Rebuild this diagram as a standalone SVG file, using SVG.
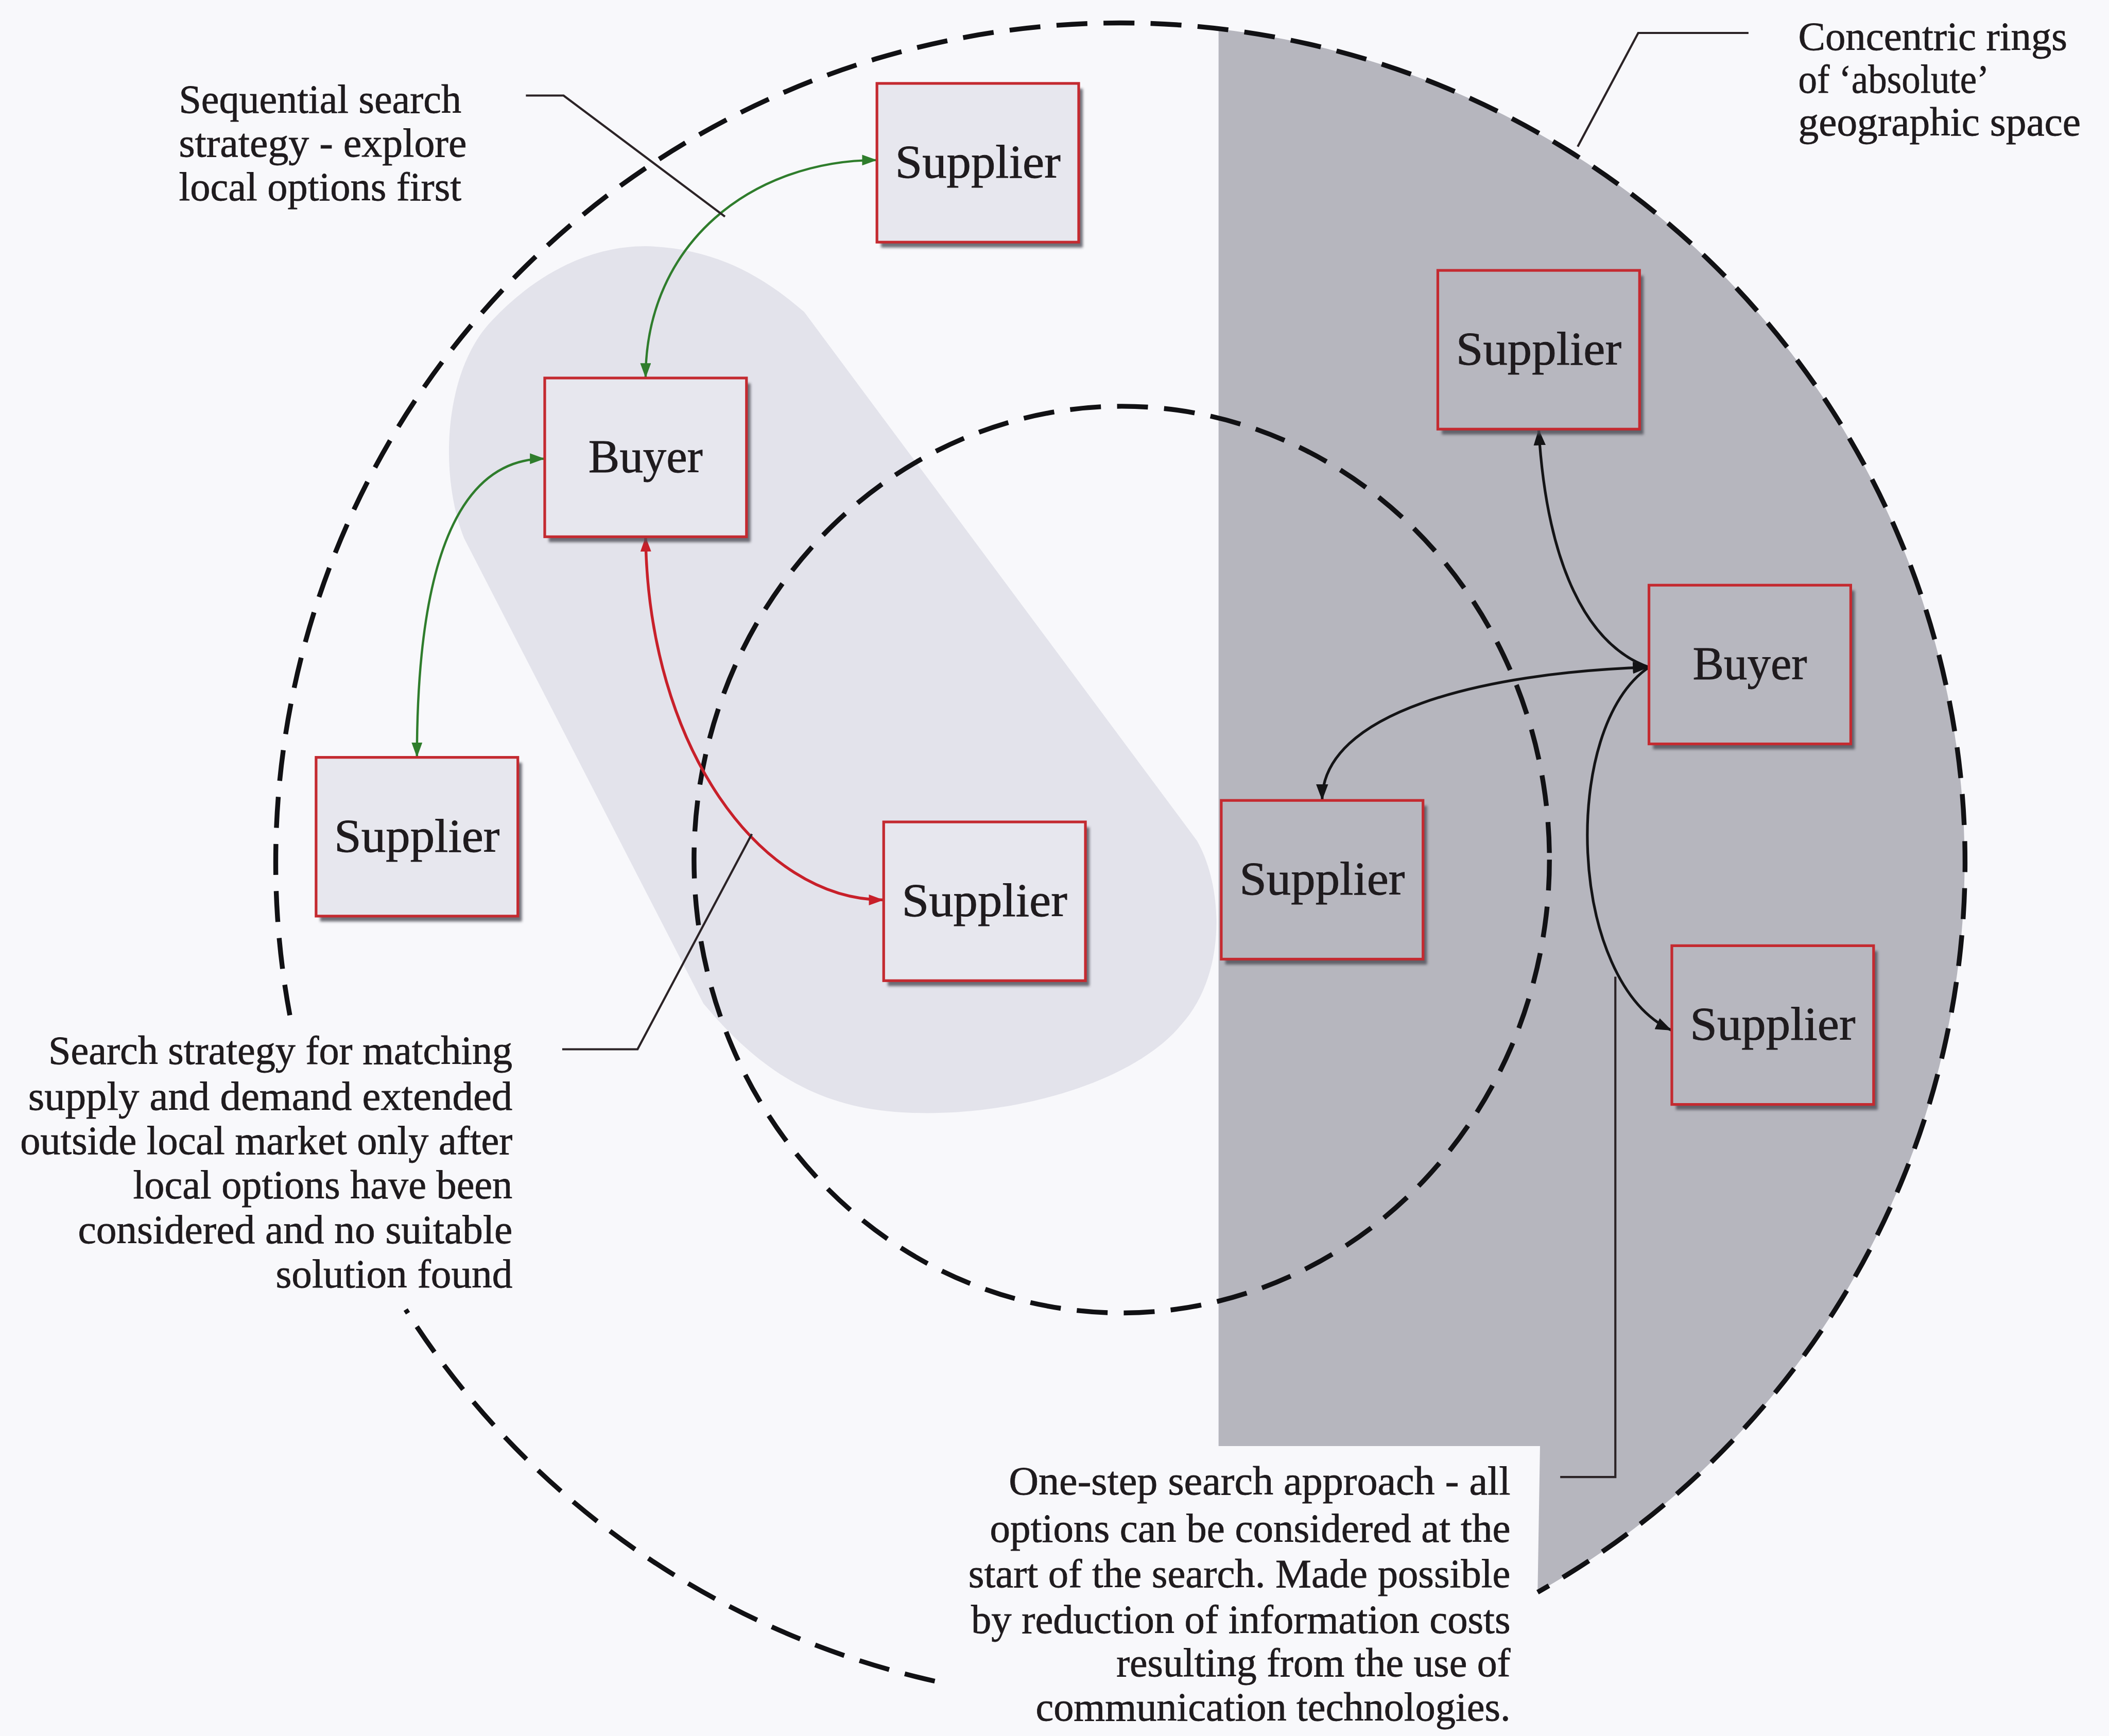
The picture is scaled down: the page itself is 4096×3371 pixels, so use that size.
<svg xmlns="http://www.w3.org/2000/svg" width="4096" height="3371" viewBox="0 0 4096 3371">
  <defs>
    <style>
      .ring { fill: none; stroke: #111114; stroke-width: 3.6; stroke-dasharray: 23 12; }
      .box-lt { fill: #e7e7ee; stroke: #c42a30; stroke-width: 2; }
      .box-dk { fill: #b7b7bf; stroke: #c42a30; stroke-width: 2; }
      .shadow { fill: #4d4d56; opacity: 0.8; filter: url(#soft); }
      .node-text { font-family: "Liberation Serif", "Times New Roman", serif; font-size: 35px; fill: #1f1b1e; stroke: #1f1b1e; stroke-width: 0.35; text-anchor: middle; }
      .label { font-family: "Liberation Serif", "Times New Roman", serif; font-size: 30px; fill: #1f1b1e; stroke: #1f1b1e; stroke-width: 0.3; }
      .leader { fill: none; stroke: #2b2326; stroke-width: 1.6; }
      .link-green { fill: none; stroke: #2f7d2c; stroke-width: 1.7; }
      .link-red { fill: none; stroke: #c8202a; stroke-width: 2.1; }
      .link-black { fill: none; stroke: #141416; stroke-width: 2; }
    </style>
    <filter id="soft" x="-10%" y="-10%" width="120%" height="120%">
      <feGaussianBlur stdDeviation="1.1"/>
    </filter>
    <marker id="arrow-green" markerUnits="userSpaceOnUse" viewBox="0 0 11 8" markerWidth="11" markerHeight="8" refX="11" refY="4" orient="auto-start-reverse">
      <path d="M0,0 L11,4 L0,8 Z" fill="#2f7d2c"/>
    </marker>
    <marker id="arrow-red" markerUnits="userSpaceOnUse" viewBox="0 0 11 8" markerWidth="11" markerHeight="8" refX="11" refY="4" orient="auto-start-reverse">
      <path d="M0,0 L11,4 L0,8 Z" fill="#c8202a"/>
    </marker>
    <marker id="arrow-black" markerUnits="userSpaceOnUse" viewBox="0 0 12 9" markerWidth="12" markerHeight="9" refX="12" refY="4.5" orient="auto-start-reverse">
      <path d="M0,0 L12,4.5 L0,9 Z" fill="#141416"/>
    </marker>
  </defs>

  <rect x="0" y="0" width="4096" height="3371" fill="#f8f8fb"/>

  <g transform="scale(2.6122)">
    <!-- background zones -->
    <g id="zones">
      <path id="local-zone" fill="#e3e3eb"
            d="M480,183 C528,184 565,203 598,232 L890,625 C910,660 912,725 878,762 C840,808 740,834 660,826 C600,820 560,790 523,746 L345,400 C326,352 330,275 366,238 C396,206 436,183 480,183 Z"/>
      <path id="remote-zone" fill="#b6b6be"
            d="M906,21.5 L906,1075 L1145,1075 L1143.2,1183.6 A628,624 0 0 0 906,21.5 Z"/>
    </g>

    <!-- concentric rings -->
    <g id="rings">
      <path class="ring" d="M215.5,754.7 A628,624 0 1 1 1143.2,1183.6"/>
      <path class="ring" d="M695,1249.7 A628,624 0 0 1 301.6,973.5"/>
      <ellipse class="ring" cx="834" cy="639" rx="318" ry="337"/>
    </g>

    <!-- connectors -->
    <g id="connectors">
      <path class="link-green" d="M480,281 C480,180 560,119 652,119" marker-start="url(#arrow-green)" marker-end="url(#arrow-green)"/>
      <path class="link-green" d="M310,563 C310,420 340,341 405,341" marker-start="url(#arrow-green)" marker-end="url(#arrow-green)"/>
      <path class="link-red" d="M480,399 C482,555 565,669 657,669" marker-start="url(#arrow-red)" marker-end="url(#arrow-red)"/>
      <path class="link-black" d="M1144,319 C1150,420 1180,480 1226,496" marker-start="url(#arrow-black)"/>
      <path class="link-black" d="M1226,496 C1100,500 983,530 983,595" marker-start="url(#arrow-black)" marker-end="url(#arrow-black)"/>
      <path class="link-black" d="M1226,496 C1160,540 1165,730 1243,766" marker-end="url(#arrow-black)"/>
    </g>

    <!-- annotation leaders -->
    <g id="leaders">
      <polyline class="leader" points="391,71 419,71 539,161"/>
      <polyline class="leader" points="1300,24.5 1218,24.5 1173,109"/>
      <polyline class="leader" points="418,780 474,780 559,620"/>
      <polyline class="leader" points="1160,1098 1201,1098 1201,726"/>
    </g>

    <!-- nodes -->
    <g id="supplier-top">
      <rect class="shadow" x="655" y="66" width="150" height="118"/>
      <rect class="box-lt" x="652" y="62" width="150" height="118"/>
      <text class="node-text" x="727" y="132" textLength="123" lengthAdjust="spacingAndGlyphs">Supplier</text>
    </g>
    <g id="buyer-local">
      <rect class="shadow" x="408" y="285" width="150" height="118"/>
      <rect class="box-lt" x="405" y="281" width="150" height="118"/>
      <text class="node-text" x="480" y="351" textLength="85" lengthAdjust="spacingAndGlyphs">Buyer</text>
    </g>
    <g id="supplier-left">
      <rect class="shadow" x="238" y="567" width="150" height="118"/>
      <rect class="box-lt" x="235" y="563" width="150" height="118"/>
      <text class="node-text" x="310" y="633" textLength="123" lengthAdjust="spacingAndGlyphs">Supplier</text>
    </g>
    <g id="supplier-middle">
      <rect class="shadow" x="660" y="615" width="150" height="118"/>
      <rect class="box-lt" x="657" y="611" width="150" height="118"/>
      <text class="node-text" x="732" y="681" textLength="123" lengthAdjust="spacingAndGlyphs">Supplier</text>
    </g>
    <g id="supplier-inner-right">
      <rect class="shadow" x="911" y="599" width="150" height="118"/>
      <rect class="box-dk" x="908" y="595" width="150" height="118"/>
      <text class="node-text" x="983" y="665" textLength="123" lengthAdjust="spacingAndGlyphs">Supplier</text>
    </g>
    <g id="supplier-far-top">
      <rect class="shadow" x="1072" y="205" width="150" height="118"/>
      <rect class="box-dk" x="1069" y="201" width="150" height="118"/>
      <text class="node-text" x="1144" y="271" textLength="123" lengthAdjust="spacingAndGlyphs">Supplier</text>
    </g>
    <g id="buyer-remote">
      <rect class="shadow" x="1229" y="439" width="150" height="118"/>
      <rect class="box-dk" x="1226" y="435" width="150" height="118"/>
      <text class="node-text" x="1301" y="505" textLength="85" lengthAdjust="spacingAndGlyphs">Buyer</text>
    </g>
    <g id="supplier-far-bottom">
      <rect class="shadow" x="1246" y="707" width="150" height="118"/>
      <rect class="box-dk" x="1243" y="703" width="150" height="118"/>
      <text class="node-text" x="1318" y="773" textLength="123" lengthAdjust="spacingAndGlyphs">Supplier</text>
    </g>

    <!-- annotations -->
    <g id="note-sequential" class="label">
      <text x="133" y="84" textLength="210" lengthAdjust="spacingAndGlyphs">Sequential search</text>
      <text x="133" y="116.5" textLength="214" lengthAdjust="spacingAndGlyphs">strategy - explore</text>
      <text x="133" y="149" textLength="210" lengthAdjust="spacingAndGlyphs">local options first</text>
    </g>
    <g id="note-rings" class="label">
      <text x="1337" y="37" textLength="200" lengthAdjust="spacingAndGlyphs">Concentric rings</text>
      <text x="1337" y="69" textLength="142" lengthAdjust="spacingAndGlyphs">of ‘absolute’</text>
      <text x="1337" y="100.5" textLength="210" lengthAdjust="spacingAndGlyphs">geographic space</text>
    </g>
    <g id="note-extended" class="label">
      <text x="36" y="791" textLength="345" lengthAdjust="spacingAndGlyphs">Search strategy for matching</text>
      <text x="21" y="825" textLength="360" lengthAdjust="spacingAndGlyphs">supply and demand extended</text>
      <text x="15" y="858" textLength="366" lengthAdjust="spacingAndGlyphs">outside local market only after</text>
      <text x="99" y="891" textLength="282" lengthAdjust="spacingAndGlyphs">local options have been</text>
      <text x="58" y="924" textLength="323" lengthAdjust="spacingAndGlyphs">considered and no suitable</text>
      <text x="205" y="957" textLength="176" lengthAdjust="spacingAndGlyphs">solution found</text>
    </g>
    <g id="note-one-step" class="label">
      <text x="750" y="1111" textLength="373" lengthAdjust="spacingAndGlyphs">One-step search approach - all</text>
      <text x="736" y="1146" textLength="387" lengthAdjust="spacingAndGlyphs">options can be considered at the</text>
      <text x="720" y="1180" textLength="403" lengthAdjust="spacingAndGlyphs">start of the search. Made possible</text>
      <text x="722" y="1214" textLength="401" lengthAdjust="spacingAndGlyphs">by reduction of information costs</text>
      <text x="830" y="1246" textLength="293" lengthAdjust="spacingAndGlyphs">resulting from the use of</text>
      <text x="770" y="1279" textLength="353" lengthAdjust="spacingAndGlyphs">communication technologies.</text>
    </g>
  </g>
</svg>
